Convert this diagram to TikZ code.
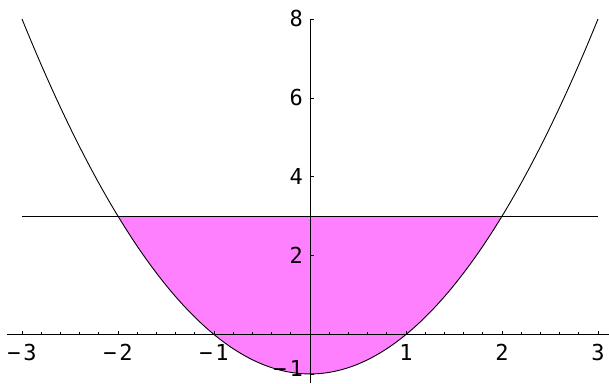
\documentclass[tikz,border=0pt]{standalone}
\usepackage{fontspec}
\newfontfamily\lblfont{DejaVu Sans Mono}
\definecolor{fillmag}{RGB}{255,128,255}
\begin{document}
\begin{tikzpicture}[x=96pt,y=39.44pt,
  axisline/.style={line width=0.7pt},
  tickline/.style={line width=0.6pt},
  curveline/.style={line width=0.9pt},
  lab/.style={font=\lblfont\fontsize{22}{22}\selectfont, inner sep=0pt}]
\useasboundingbox (-310pt,-48.5pt) rectangle (299pt,334.5pt);
% shaded region
\fill[fillmag] (-2,3) -- plot[domain=-2:2, samples=80, smooth] (\x,{\x*\x-1}) -- cycle;
% axes
\draw[axisline] (-303pt,0) -- (299pt,0);
\draw[axisline] (0,-48.5pt) -- (0,8);
% x ticks
\foreach \i in {-3,-2,-1,1,2,3} \draw[tickline] (\i,0) -- ++(0,3.7pt);
\foreach \i in {-3,-2.8,...,3.01} \draw[tickline] (\i,0) -- ++(0,2.3pt);
% y ticks
\foreach \j in {-1,2,4,6,8} \draw[tickline] (0,\j) -- ++(3.7pt,0);
% x labels
\foreach \i in {1,2,3} \node[lab] (lxp\i) at (\i,-17.5pt) {\i};
\foreach \i in {1,2,3} \node[lab] (lxm\i) at (-\i,-17.5pt) {−\kern3pt\i};
% y labels
\foreach \j in {2,4,6,8} \node[lab, anchor=east] (ly\j) at ([xshift=-7pt]0,\j) {\j};
\node[lab, anchor=east] (lym1) at ([xshift=-7pt,yshift=5pt]0,-1) {−\kern3pt1};
% horizontal line y=3
\draw[curveline] (-3,3) -- (3,3);
% parabola
\draw[curveline] plot[domain=-3:3, samples=120, smooth] (\x,{\x*\x-1});
\end{tikzpicture}
\end{document}
